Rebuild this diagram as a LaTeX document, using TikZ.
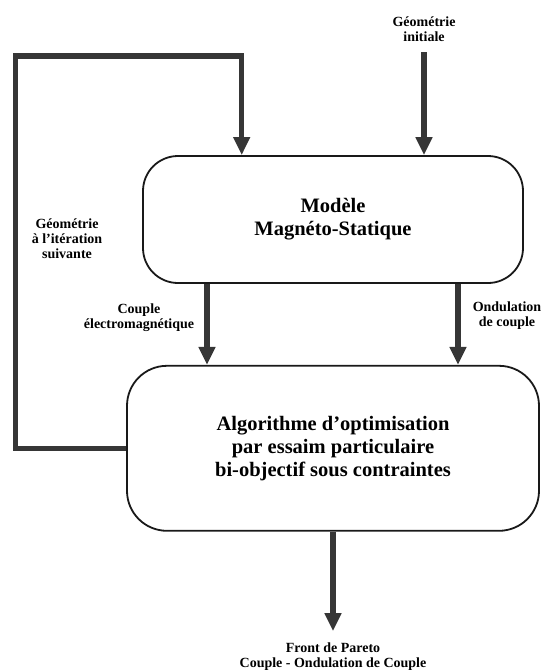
\documentclass[tikz,border=0pt]{standalone}
\usepackage{fontspec}
\setmainfont{Liberation Serif}
\usetikzlibrary{positioning, arrows.meta}
\definecolor{arrgray}{HTML}{363636}

\begin{document}
\begin{tikzpicture}[
    x=1pt, y=1pt,
    node distance=81pt,
    procbox/.style={rectangle, draw=black!90, line width=1.8pt, align=center, font=\bfseries\fontsize{20.5}{23}\selectfont},
    lbl/.style={align=center, font=\bfseries\fontsize{14}{15}\selectfont},
    arr/.style={-{Triangle[length=18pt, width=16pt]}, line width=5.5pt, draw=arrgray, line join=miter},
]
\useasboundingbox (0,0) rectangle (541,-670);
% the two blocks
\node[procbox, minimum width=380pt, minimum height=127pt, rounded corners=35pt] (modele) at (333,-219.5) {Modèle\\Magnéto-Statique};
\node[procbox, minimum width=412pt, minimum height=165pt, rounded corners=40pt, below=of modele] (algo) {Algorithme d’optimisation\\par essaim particulaire\\bi-objectif sous contraintes};
% labels
\node[lbl] (geoinit) at (424,-29.5) {Géométrie\\initiale};
\node[lbl] (fblbl) at (67,-239) {Géométrie\\à l’itération\\suivante};
\node[lbl] (cpllbl) at (139,-318) {Couple\\électromagnétique};
\node[lbl] (ondlbl) at (507,-316) {Ondulation\\de couple};
\node[lbl] (front) at (333,-656.5) {Front de Pareto\\Couple - Ondulation de Couple};
% arrows
\coordinate (cpl) at ([xshift=-126pt]modele.south);
\coordinate (ond) at ([xshift=125pt]modele.south);
\coordinate (fbcorner) at (15.7,-56);
\coordinate (fbin) at ([xshift=-91.3pt]modele.north);
\draw[arr, shorten <=7pt] (geoinit) -- (geoinit |- modele.north);
\draw[arr] (cpl) -- (cpl |- algo.north);
\draw[arr] (ond) -- (ond |- algo.north);
\draw[arr] (algo.west) -| (fbcorner) -| (fbin);
\draw[arr, shorten >=8pt] (algo) -- (front);
\end{tikzpicture}
\end{document}
